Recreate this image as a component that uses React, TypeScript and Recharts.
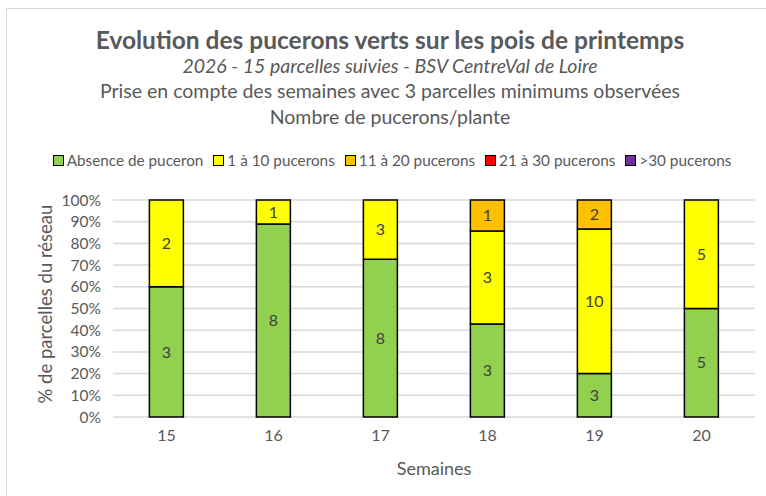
import React from "react";
import { BarChart, Bar, XAxis, YAxis, CartesianGrid, LabelList } from "recharts";

// nombre de parcelles par classe et par semaine
const semaines = ["15", "16", "17", "18", "19", "20"];
const absence = [3, 8, 8, 3, 3, 5];
const de1a10 = [2, 1, 3, 3, 10, 5];
const de11a20 = [0, 0, 0, 1, 2, 0];
const de21a30 = [0, 0, 0, 0, 0, 0];
const plus30 = [0, 0, 0, 0, 0, 0];
const yTicks = [0, 0.1, 0.2, 0.3, 0.4, 0.5, 0.6, 0.7, 0.8, 0.9, 1];

const series = [
  { key: "absence", name: "Absence de puceron", color: "#92D050" },
  { key: "de1a10", name: "1 à 10 pucerons", color: "#FFFF00" },
  { key: "de11a20", name: "11 à 20 pucerons", color: "#FFC000" },
  { key: "de21a30", name: "21 à 30 pucerons", color: "#FF0000" },
  { key: "plus30", name: ">30 pucerons", color: "#7030A0" },
];

const data = semaines.map((s, i) => ({
  semaine: s,
  absence: absence[i],
  de1a10: de1a10[i],
  de11a20: de11a20[i],
  de21a30: de21a30[i],
  plus30: plus30[i],
}));

const font = "Lato, 'Open Sans', sans-serif";
const grey = "#595959";

const fmtLabel = (v: any) => (v ? String(v) : "");

export default function App() {
  return (
    <div style={{ position: "absolute", left: 0, top: 0, width: 766, height: 496, background: "#fff", fontFamily: font, overflow: "hidden" }}>
      {/* bordure du graphique */}
      <div style={{ position: "absolute", left: 6, top: 8, width: 760, height: 1, background: "#D9D9D9" }} />
      <div style={{ position: "absolute", left: 6, top: 8, width: 1, height: 488, background: "#D9D9D9" }} />

      <div style={{ position: "absolute", left: 0, width: 780, top: 27, textAlign: "center", color: grey, lineHeight: "25.5px" }}>
        <div style={{ fontSize: 24.5, fontWeight: 700 }}>Evolution des pucerons verts sur les pois de printemps</div>
        <div style={{ fontSize: 19.5, fontStyle: "italic" }}>2026 - 15 parcelles suivies - BSV CentreVal de Loire</div>
        <div style={{ fontSize: 19.5 }}>Prise en compte des semaines avec 3 parcelles minimums observées</div>
        <div style={{ fontSize: 19.5 }}>Nombre de pucerons/plante</div>
      </div>

      {/* légende */}
      <div style={{ position: "absolute", left: 0, width: 784, top: 151, display: "flex", justifyContent: "center", gap: 10, fontSize: 15.3, color: grey }}>
        {series.map((s) => (
          <div key={s.key} style={{ display: "flex", alignItems: "center", gap: 3 }}>
            <span style={{ display: "inline-block", width: 9, height: 9, background: s.color, border: "1.5px solid #000" }} />
            <span>{s.name}</span>
          </div>
        ))}
      </div>

      <BarChart
        width={766}
        height={496}
        data={data}
        stackOffset="expand"
        margin={{ top: 200, right: 11, left: 55, bottom: 49 }}
        barCategoryGap="34%"
      >
        <CartesianGrid vertical={false} stroke="#D9D9D9" strokeWidth={1.5} />
        <XAxis
          dataKey="semaine"
          axisLine={false}
          tickLine={false}
          height={30}
          tick={{ fill: grey, fontSize: 16, fontFamily: font }}
          dy={5}
          label={{ value: "Semaines", position: "insideBottom", offset: -28, fill: grey, fontSize: 18, fontFamily: font }}
        />
        <YAxis
          width={58}
          ticks={yTicks}
          domain={[0, 1]}
          interval={0}
          axisLine={false}
          tickLine={false}
          tickFormatter={(v: number) => `${Math.round(v * 100)}%`}
          tick={{ fill: grey, fontSize: 15.5, fontFamily: font, dx: -4 }}
          label={{ value: "% de parcelles du réseau", angle: -90, position: "insideLeft", offset: -10, dy: 95, fill: grey, fontSize: 18.5, fontFamily: font }}
        />
        {series.map((s) => (
          <Bar key={s.key} dataKey={s.key} name={s.name} stackId="a" fill={s.color} stroke="#000" strokeWidth={1.5} isAnimationActive={false}>
            <LabelList dataKey={s.key} position="center" formatter={fmtLabel} fill="#404040" fontSize={16} fontFamily={font} />
          </Bar>
        ))}
      </BarChart>
    </div>
  );
}
